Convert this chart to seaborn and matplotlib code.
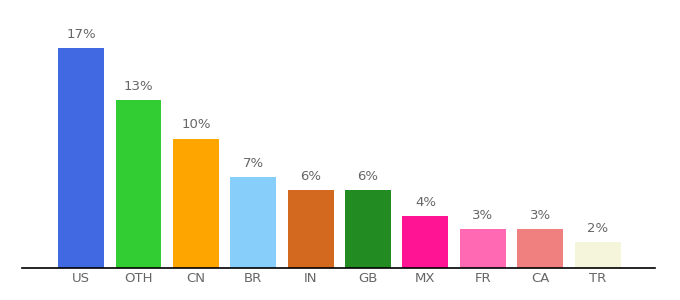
import matplotlib
matplotlib.use("Agg")
import matplotlib.pyplot as plt
import seaborn as sns
import pandas as pd

countries = ["US", "OTH", "CN", "BR", "IN", "GB", "MX", "FR", "CA", "TR"]
values = [17, 13, 10, 7, 6, 6, 4, 3, 3, 2]
labels = ["17%", "13%", "10%", "7%", "6%", "6%", "4%", "3%", "3%", "2%"]
colors = ["#4169E1", "#32CD32", "#FFA500", "#87CEFA", "#D2691E",
          "#228B22", "#FF1493", "#FF69B4", "#F08080", "#F5F5DC"]

sns.set_style("white")
plt.rcParams['font.family'] = ['DejaVu Sans']

df = pd.DataFrame({"country": countries, "value": values})

fig = plt.figure(figsize=(6.8, 3.0), dpi=100)
ax = fig.add_axes([22 / 680, 32 / 300, 633 / 680, 259 / 300])
sns.barplot(data=df, x="country", y="value", hue="country", palette=colors,
            legend=False, width=0.8, saturation=1, linewidth=0, ax=ax)

for i, (v, lab) in enumerate(zip(values, labels)):
    ax.text(i, v + 0.55, lab, ha="center", va="bottom", fontsize=9.5, color="#666666")

ax.set_xlim(-1.03, 10.0)
ax.set_ylim(0, 20)
ax.set_xlabel("")
ax.set_ylabel("")
ax.set_yticks([])
for s in ["top", "right", "left"]:
    ax.spines[s].set_visible(False)
ax.spines["bottom"].set_color("black")
ax.spines["bottom"].set_linewidth(1.2)
ax.tick_params(axis="x", length=0, labelsize=9.5, labelcolor="#666666", pad=3)

fig.savefig("out.png", dpi=100)
